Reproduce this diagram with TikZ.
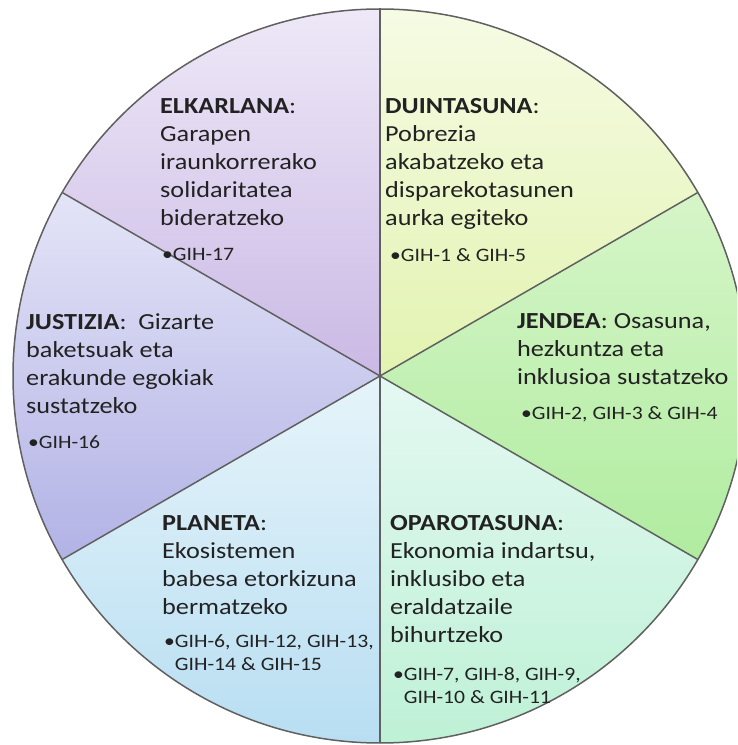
\documentclass[tikz,border=0pt]{standalone}
\usepackage{fontspec}
\setmainfont{Carlito}[FakeStretch=1.14]
\usepackage{tikz}
\usetikzlibrary{positioning}
\definecolor{edgeGray}{RGB}{96,96,96}
\definecolor{textDark}{RGB}{34,34,34}
\definecolor{elkTop}{RGB}{238,232,247}
\definecolor{elkBot}{RGB}{202,185,229}
\definecolor{duiTop}{RGB}{246,251,228}
\definecolor{duiBot}{RGB}{226,243,176}
\definecolor{jenTop}{RGB}{214,245,200}
\definecolor{jenBot}{RGB}{176,236,160}
\definecolor{opaTop}{RGB}{228,248,242}
\definecolor{opaBot}{RGB}{190,241,214}
\definecolor{plaTop}{RGB}{230,244,250}
\definecolor{plaBot}{RGB}{184,222,242}
\definecolor{jusTop}{RGB}{228,228,247}
\definecolor{jusBot}{RGB}{178,178,230}

\begin{document}
\begin{tikzpicture}[x=1pt,y=1pt,
    slicetext/.style={align=left,inner sep=0pt,anchor=north west,text=textDark,font=\fontsize{23}{28}\selectfont},
    gihtext/.style={align=left,inner sep=0pt,anchor=north west,text=textDark,font=\fontsize{19}{23.5}\selectfont},
    divider/.style={edgeGray,line width=1.5pt}]
    \useasboundingbox (0,0) rectangle (737,745);
    \clip (0,0) rectangle (737,745);
    \coordinate (c) at (380,369);

    % Slices of the wheel
    \foreach \a/\ctop/\cbot in {90/elkTop/elkBot,30/duiTop/duiBot,-30/jenTop/jenBot,-90/opaTop/opaBot,210/plaTop/plaBot,150/jusTop/jusBot} {
        \shade[top color=\ctop,bottom color=\cbot] (c) -- ++(\a:367) arc[start angle=\a,delta angle=60,radius=367] -- cycle;
    }
    % Borders
    \foreach \a in {30,90,...,330} {
        \draw[divider] (c) -- ++(\a:367);
    }
    \draw[divider] (c) circle[radius=367];

    % Texts
    \node[slicetext] (elkarlana) at (160,647) {\textbf{ELKARLANA}:\\Garapen\\iraunkorrerako\\solidaritatea\\bideratzeko};
    \node[gihtext] (gihElk) at (162,497) {•GIH-17};

    \node[slicetext] (duintasuna) at (385,647) {\textbf{DUINTASUNA}:\\Pobrezia\\akabatzeko eta\\disparekotasunen\\aurka egiteko};
    \node[gihtext] (gihDui) at (390,497) {•GIH-1 \& GIH-5};

    \node[slicetext] (justizia) at (26,432) {\textbf{JUSTIZIA}:\ \ Gizarte\\baketsuak eta\\erakunde egokiak\\sustatzeko};
    \node[gihtext] (gihJus) at (28,310) {•GIH-16};

    \node[slicetext] (jendea) at (517,432) {\textbf{JENDEA}: Osasuna,\\hezkuntza eta\\inklusioa sustatzeko};
    \node[gihtext] (gihJen) at (521,339) {•GIH-2, GIH-3 \& GIH-4};

    \node[slicetext] (planeta) at (162,230) {\textbf{PLANETA}:\\Ekosistemen\\babesa etorkizuna\\bermatzeko};
    \node[gihtext] (gihPla) at (164,111) {•GIH-6, GIH-12, GIH-13,\\\phantom{•}GIH-14 \& GIH-15};

    \node[slicetext] (oparotasuna) at (390,230) {\textbf{OPAROTASUNA}:\\Ekonomia indartsu,\\inklusibo eta\\eraldatzaile\\bihurtzeko};
    \node[gihtext] (gihOpa) at (393,78) {•GIH-7, GIH-8, GIH-9,\\\phantom{•}GIH-10 \& GIH-11};
\end{tikzpicture}
\end{document}
